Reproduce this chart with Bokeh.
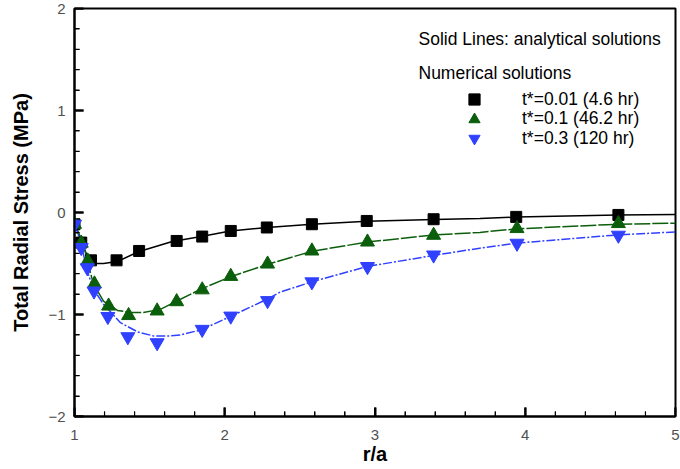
from bokeh.plotting import figure
from bokeh.models import (FixedTicker, Range1d, Legend, LegendItem, Label)
from bokeh.embed import file_html
from bokeh.resources import INLINE

# ---------------- data ----------------
# analytical solutions (solid lines)
ana_x_001 = [1.0, 1.04, 1.08, 1.106, 1.146, 1.193, 1.286, 1.425, 1.651, 1.844, 2.037,
             2.282, 2.58, 2.947, 3.392, 3.698, 3.944, 4.615, 5.0]
ana_y_001 = [-0.1, -0.265, -0.41, -0.48, -0.5, -0.5, -0.48, -0.385, -0.285, -0.235, -0.182,
             -0.147, -0.115, -0.085, -0.068, -0.06, -0.044, -0.025, -0.02]

ana_x_01 = [1.0, 1.04, 1.06, 1.086, 1.126, 1.193, 1.286, 1.372, 1.458, 1.571, 1.678, 1.844,
            2.037, 2.282, 2.58, 2.947, 3.392, 3.698, 3.944, 4.615, 5.0]
ana_y_01 = [-0.11, -0.24, -0.31, -0.48, -0.70, -0.87, -0.96, -0.98, -0.98, -0.95, -0.87, -0.75,
            -0.63, -0.51, -0.38, -0.29, -0.22, -0.195, -0.16, -0.115, -0.105]

ana_x_03 = [1.0, 1.04, 1.084, 1.126, 1.193, 1.306, 1.419, 1.525, 1.638, 1.704, 1.844, 2.037,
            2.282, 2.369, 2.58, 2.947, 3.392, 3.698, 3.944, 4.615, 5.0]
ana_y_03 = [-0.11, -0.28, -0.57, -0.75, -0.90, -1.08, -1.17, -1.21, -1.21, -1.20, -1.15, -1.02,
            -0.85, -0.78, -0.68, -0.53, -0.42, -0.35, -0.30, -0.22, -0.19]

# numerical solutions (markers)
num_x_001 = [1.0, 1.045, 1.11, 1.28, 1.43, 1.68, 1.85, 2.04, 2.28, 2.58, 2.945, 3.39, 3.94, 4.62]
num_y_001 = [-0.115, -0.295, -0.469, -0.469, -0.377, -0.279, -0.236, -0.181, -0.147, -0.115,
             -0.083, -0.066, -0.043, -0.024]

num_x_01 = [1.0, 1.045, 1.088, 1.133, 1.227, 1.36, 1.55, 1.68, 1.85, 2.04, 2.285, 2.58, 2.95,
            3.39, 3.945, 4.62]
num_y_01 = [-0.115, -0.30, -0.475, -0.70, -0.917, -1.01, -0.965, -0.874, -0.758, -0.626, -0.505,
            -0.377, -0.289, -0.223, -0.157, -0.108]

num_x_03 = [1.0, 1.045, 1.085, 1.13, 1.222, 1.355, 1.55, 1.85, 2.04, 2.285, 2.58, 2.95, 3.39,
            3.945, 4.62]
num_y_03 = [-0.115, -0.344, -0.542, -0.77, -1.02, -1.218, -1.277, -1.146, -1.016, -0.864, -0.68,
            -0.53, -0.417, -0.302, -0.223]

series_labels = ["t*=0.01 (4.6 hr)", "t*=0.1 (46.2 hr)", "t*=0.3 (120 hr)"]
x_major_ticks = [1, 2, 3, 4, 5]
y_major_ticks = [-2, -1, 0, 1, 2]
minor_per_major = 5

x_minor_ticks = [a + (b - a) * k / minor_per_major
                 for a, b in zip(x_major_ticks[:-1], x_major_ticks[1:]) for k in range(1, minor_per_major)]
y_minor_ticks = [a + (b - a) * k / minor_per_major
                 for a, b in zip(y_major_ticks[:-1], y_major_ticks[1:]) for k in range(1, minor_per_major)]

# ---------------- styles / layout ----------------
BLACK = "#000000"
GREEN = "#0b5e0b"
BLUE = "#3040ff"
FONT = "Liberation Sans"

W, H = 680, 469
BL, BR, BT, BB = 74, 5, 8, 53

XMIN, XMAX = x_major_ticks[0], x_major_ticks[-1]
YMIN, YMAX = y_major_ticks[0], y_major_ticks[-1]

p = figure(width=W, height=H, output_backend="svg", toolbar_location=None,
           x_range=Range1d(XMIN, XMAX), y_range=Range1d(YMIN, YMAX),
           min_border_left=BL, min_border_right=BR, min_border_top=BT, min_border_bottom=BB)
p.outline_line_color = "black"
p.outline_line_width = 2
p.xgrid.visible = False
p.ygrid.visible = False

p.xaxis.ticker = FixedTicker(ticks=x_major_ticks, minor_ticks=x_minor_ticks)
p.yaxis.ticker = FixedTicker(ticks=y_major_ticks, minor_ticks=y_minor_ticks)
for ax in (p.xaxis[0], p.yaxis[0]):
    ax.axis_line_width = 2
    ax.major_tick_in = 9
    ax.major_tick_out = 0
    ax.minor_tick_in = 5
    ax.minor_tick_out = 0
    ax.major_tick_line_width = 2
    ax.minor_tick_line_width = 1
    ax.major_label_text_font = FONT
    ax.major_label_text_font_size = "15px"
    ax.major_label_text_color = "#505050"
    ax.axis_label_text_font = FONT
    ax.axis_label_text_font_style = "bold"
    ax.axis_label_text_color = "black"

p.xaxis.axis_label = "r/a"
p.xaxis.axis_label_text_font_size = "20px"
p.xaxis.major_label_standoff = 13
p.xaxis.axis_label_standoff = 0
p.yaxis.axis_label = "Total Radial Stress (MPa)"
p.yaxis.axis_label_text_font_size = "20px"
p.yaxis.major_label_standoff = 9
p.yaxis.axis_label_standoff = 13

# inward tick marks as small filled rectangles centred on the frame edge (outer half clipped)
MAJ, MIN = 9, 5
p.rect(x=[XMIN] * len(y_major_ticks), y=y_major_ticks, width=2 * MAJ, height=2,
       width_units="screen", height_units="screen", fill_color="black", line_color=None)
p.rect(x=[XMIN] * len(y_minor_ticks), y=y_minor_ticks, width=2 * MIN, height=1.2,
       width_units="screen", height_units="screen", fill_color="black", line_color=None)
p.rect(x=x_major_ticks, y=[YMIN] * len(x_major_ticks), width=2, height=2 * MAJ,
       width_units="screen", height_units="screen", fill_color="black", line_color=None)
p.rect(x=x_minor_ticks, y=[YMIN] * len(x_minor_ticks), width=1.2, height=2 * MIN,
       width_units="screen", height_units="screen", fill_color="black", line_color=None)

# analytical lines
p.line(ana_x_001, ana_y_001, line_color=BLACK, line_width=1.5)
p.line(ana_x_01, ana_y_01, line_color=GREEN, line_width=1.5, line_dash="16 2")
p.line(ana_x_03, ana_y_03, line_color=BLUE, line_width=1.5, line_dash="9 2 2 2")

# numerical markers
r1 = p.scatter(num_x_001, num_y_001, marker="square", size=11, fill_color=BLACK, line_color=BLACK)
r2 = p.scatter(num_x_01, num_y_01, marker="triangle", size=14, fill_color=GREEN, line_color=GREEN)
r3 = p.scatter(num_x_03, num_y_03, marker="inverted_triangle", size=14, fill_color=BLUE, line_color=BLUE)

# legend: one single-item legend per row so that glyphs can be large while rows stay close
for lab, rend, ybot in zip(series_labels, [r1, r2, r3], [303, 283.5, 264]):
    lg = Legend(items=[LegendItem(label=lab, renderers=[rend])],
                location=(386, ybot), orientation="vertical",
                background_fill_alpha=0, border_line_alpha=0,
                padding=0, margin=0, spacing=0,
                glyph_width=28, glyph_height=28, label_height=19,
                label_standoff=34,
                label_text_font=FONT, label_text_font_size="17.5px", label_text_color="black")
    p.add_layout(lg, "center")

p.add_layout(Label(x=344, y=378, x_units="screen", y_units="screen",
                   text="Solid Lines: analytical solutions", text_font=FONT,
                   text_font_size="17.5px", text_baseline="middle", text_color="black"))
p.add_layout(Label(x=344, y=344, x_units="screen", y_units="screen",
                   text="Numerical solutions", text_font=FONT,
                   text_font_size="17.5px", text_baseline="middle", text_color="black"))

open("out.html", "w").write(file_html(p, INLINE))
